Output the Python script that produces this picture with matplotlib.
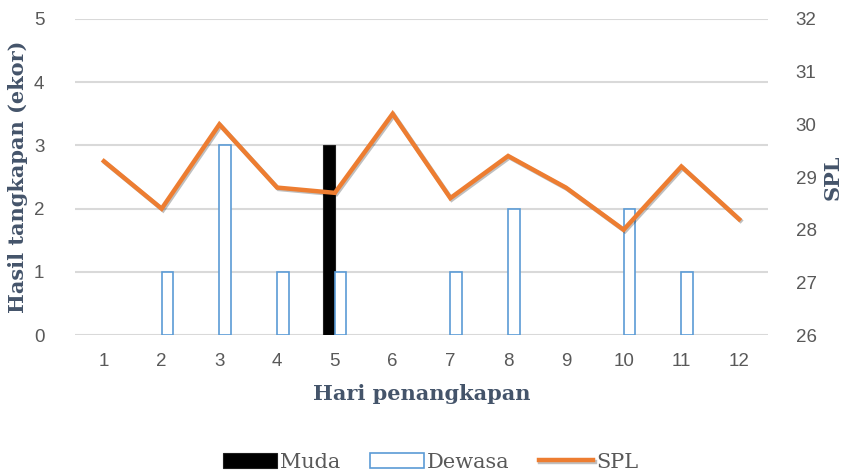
import numpy as np
import matplotlib
matplotlib.use("Agg")
import matplotlib.pyplot as plt
import matplotlib.patheffects as pe

# data
hari = ["1", "2", "3", "4", "5", "6", "7", "8", "9", "10", "11", "12"]
muda = [0, 0, 0, 0, 3, 0, 0, 0, 0, 0, 0, 0]
dewasa = [0, 1, 3, 1, 1, 0, 1, 2, 0, 2, 1, 0]
spl = [29.3, 28.4, 30.0, 28.8, 28.7, 30.2, 28.6, 29.4, 28.8, 28.0, 29.2, 28.2]

# colours and fonts
tick_color = "#595959"
label_color = "#44546a"
grid_color = "#d9d9d9"
tick_font = ["Liberation Sans Narrow", "Liberation Sans", "DejaVu Sans"]
serif_font = ["DejaVu Serif"]

fig = plt.figure(figsize=(8.43, 4.74), dpi=100)
ax = fig.add_axes([0.089, 0.293, 0.822, 0.667])

x = np.arange(len(hari))
w = 0.2

# bars, Muda on the left of the tick and Dewasa on the right
# (zero values are left out, as in the original chart)
muda = np.array(muda)
dewasa = np.array(dewasa)
m = muda > 0
d = dewasa > 0
ax.bar(x[m] - w / 2, muda[m], width=w, color="black", edgecolor="#1f1f1f",
       linewidth=0.8, label="Muda", zorder=3)
ax.bar(x[d] + w / 2, dewasa[d], width=w, color="white", edgecolor="#5b9bd5",
       linewidth=1.2, label="Dewasa", zorder=3)

ax.set_ylim(0, 5)
ax.set_xlim(-0.5, len(hari) - 0.5)
ax.set_yticks(range(0, 6))
ax.set_xticks(x)
ax.set_xticklabels(hari)
ax.yaxis.grid(True, color=grid_color, linewidth=1.5, zorder=0)
ax.set_axisbelow(True)
for s in ax.spines.values():
    s.set_visible(False)
ax.tick_params(axis="both", length=0, colors=tick_color, labelsize=13.5)
ax.tick_params(axis="y", pad=22)
ax.tick_params(axis="x", pad=13)
for t in ax.get_xticklabels() + ax.get_yticklabels():
    t.set_family(tick_font)

ax.set_ylabel("Hasil tangkapan (ekor)", family=serif_font, fontweight="bold",
              fontsize=15, color=label_color, labelpad=4)
ax.set_xlabel("Hari penangkapan", family=serif_font, fontweight="bold",
              fontsize=15, color=label_color, labelpad=10)

# second axis for the SPL line
ax2 = ax.twinx()
ax2.plot(x, spl, color="#ed7d31", linewidth=3.2, label="SPL", zorder=4,
         solid_joinstyle="miter",
         path_effects=[pe.SimpleLineShadow(offset=(1, -1), alpha=0.25),
                       pe.Normal()])
ax2.set_ylim(26, 32)
ax2.set_yticks(range(26, 33))
for s in ax2.spines.values():
    s.set_visible(False)
ax2.tick_params(axis="y", length=0, colors=tick_color, labelsize=13.5, pad=20)
for t in ax2.get_yticklabels():
    t.set_family(tick_font)
ax2.set_ylabel("SPL", family=serif_font, fontweight="bold", fontsize=15,
               color=label_color, labelpad=4)

# legend at the bottom
h1, l1 = ax.get_legend_handles_labels()
h2, l2 = ax2.get_legend_handles_labels()
leg = fig.legend(h1 + h2, l1 + l2, loc="center", bbox_to_anchor=(0.511, 0.025),
                 ncol=3, frameon=False, handlelength=2.6, handleheight=0.8,
                 handletextpad=0.15, columnspacing=1.4,
                 prop={"family": serif_font, "size": 15})
for t in leg.get_texts():
    t.set_color(tick_color)

fig.savefig("out.png", dpi=100)
